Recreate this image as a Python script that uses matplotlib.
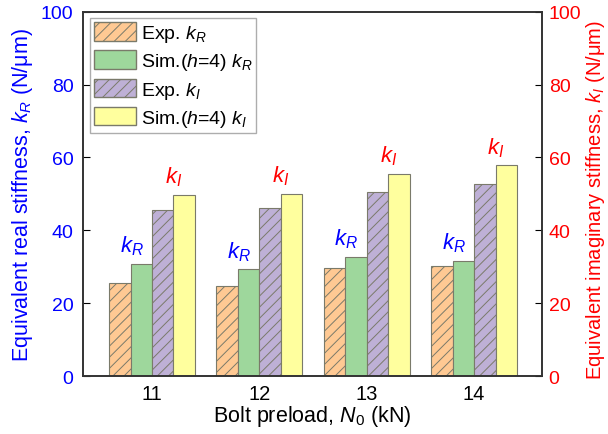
import numpy as np
import matplotlib.pyplot as plt
from matplotlib.patches import Patch

plt.rcParams['font.family'] = ['Liberation Sans', 'DejaVu Sans']
plt.rcParams['mathtext.fontset'] = 'custom'
plt.rcParams['mathtext.rm'] = 'Liberation Sans'
plt.rcParams['mathtext.it'] = 'Liberation Sans:italic'
plt.rcParams['hatch.color'] = '#4d4d4d'
plt.rcParams['hatch.linewidth'] = 0.7

# bolt preload (kN) and stiffness values (N/um)
preload = [11, 12, 13, 14]
exp_kR = [25.6, 24.6, 29.7, 30.1]
sim_kR = [30.8, 29.3, 32.8, 31.6]
exp_kI = [45.6, 46.0, 50.5, 52.6]
sim_kI = [49.8, 50.0, 55.5, 57.8]

c_exp_kR = '#FFC993'
c_sim_kR = '#9ED79C'
c_exp_kI = '#BEB0D6'
c_sim_kI = '#FFFF9E'
edge = '#7a7a6a'

fig = plt.figure(figsize=(6.08, 4.35), dpi=100)
ax = fig.add_axes([0.137, 0.133, 0.754, 0.838])
ax2 = ax.twinx()

x = np.array(preload, dtype=float)
w = 0.2
ax.bar(x - 1.5*w, exp_kR, w, color=c_exp_kR, edgecolor=edge, hatch='///', linewidth=0.8)
ax.bar(x - 0.5*w, sim_kR, w, color=c_sim_kR, edgecolor=edge, linewidth=0.8)
ax.bar(x + 0.5*w, exp_kI, w, color=c_exp_kI, edgecolor=edge, hatch='///', linewidth=0.8)
ax.bar(x + 1.5*w, sim_kI, w, color=c_sim_kI, edgecolor=edge, linewidth=0.8)

# kR / kI tags over each group
for xi, a, b in zip(x, sim_kR, sim_kI):
    ax.text(xi - 0.95*w, a + 1.8, '$k_R$', color='blue', fontsize=16,
            ha='center', va='bottom')
    ax.text(xi + 1.0*w, b + 1.8, '$k_I$', color='red', fontsize=16,
            ha='center', va='bottom')

ax.set_xlim(10.36, 14.63)
ax.set_ylim(0, 100)
ax2.set_ylim(0, 100)
ax.set_xticks(preload)
ax.set_yticks(np.arange(0, 101, 20))
ax2.set_yticks(np.arange(0, 101, 20))

ax.tick_params(axis='x', length=0, labelsize=14.5, pad=6)
ax.tick_params(axis='y', direction='in', length=5, labelsize=14, labelcolor='blue', pad=7)
ax2.tick_params(axis='y', direction='in', length=5, labelsize=14, labelcolor='red', pad=5)

ax.set_xlabel('Bolt preload, $N_0$ (kN)', fontsize=15.5, labelpad=0)
ax.set_ylabel('Equivalent real stiffness, $k_R$ (N/μm)', fontsize=15.5, color='blue', labelpad=4)
ax2.set_ylabel('Equivalent imaginary stiffness, $k_I$ (N/μm)', fontsize=14.5, color='red', labelpad=2)
ax2.yaxis.label.set_y(0.485)

for a in (ax, ax2):
    for s in a.spines.values():
        s.set_linewidth(1.2)
        s.set_color('#333333')

handles = [
    Patch(facecolor=c_exp_kR, edgecolor=edge, hatch='///', label='Exp. $k_R$'),
    Patch(facecolor=c_sim_kR, edgecolor=edge, label='Sim.($h$=4) $k_R$'),
    Patch(facecolor=c_exp_kI, edgecolor=edge, hatch='///', label='Exp. $k_I$'),
    Patch(facecolor=c_sim_kI, edgecolor=edge, label='Sim.($h$=4) $k_I$'),
]
leg = ax.legend(handles=handles, loc='upper left', fontsize=14, frameon=True,
                fancybox=False, edgecolor='#999999', handlelength=2.15, handleheight=1.1,
                handletextpad=0.25, labelspacing=0.32, borderpad=0.2,
                borderaxespad=0.35)
leg.get_frame().set_linewidth(1.0)

fig.savefig('out.png', dpi=100)
